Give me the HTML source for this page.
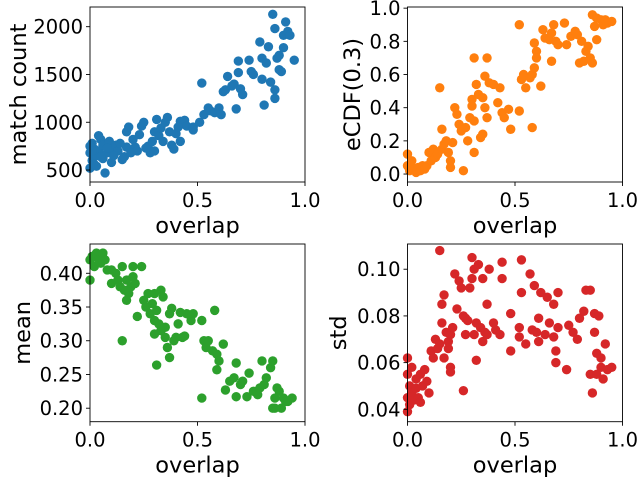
<!DOCTYPE html>
<html><head><meta charset="utf-8"><style>
html,body{margin:0;padding:0;background:#fff;}
svg{display:block;font-family:"DejaVu Sans","Liberation Sans",sans-serif;}
</style></head><body>
<svg id="fig" width="640" height="479" viewBox="0 0 640 479" xmlns="http://www.w3.org/2000/svg"></svg>
<script>
// ---- data (overlap x, metric y) ----
const countX=[0.0,0.01,0.0,0.02,0.01,0.03,0.04,0.05,0.04,0.06,0.07,0.06,0.08,0.09,0.1,0.1,0.12,0.13,0.15,0.16,0.17,0.17,0.18,0.2,0.21,0.22,0.24,0.25,0.27,0.28,0.3,0.3,0.31,0.32,0.33,0.34,0.35,0.36,0.37,0.38,0.4,0.42,0.42,0.44,0.45,0.48,0.48,0.51,0.52,0.53,0.55,0.56,0.58,0.6,0.61,0.62,0.63,0.64,0.66,0.67,0.68,0.69,0.69,0.7,0.71,0.74,0.75,0.76,0.79,0.8,0.8,0.81,0.82,0.83,0.84,0.85,0.86,0.86,0.86,0.87,0.88,0.88,0.89,0.9,0.9,0.91,0.92,0.93,0.95,0.0,0.02,0.03,0.05,0.01,0.08,0.11,0.14,0.19,0.23,0.26,0.29,0.39,0.41];
const countY=[520,600,680,720,780,650,700,820,860,760,470,620,680,800,720,580,760,700,610,640,740,900,950,820,740,700,960,1000,750,680,700,900,1030,860,940,800,1000,1050,900,760,880,800,1010,1020,960,950,920,1000,1410,1080,1150,1120,1100,1150,1080,1320,1340,1480,1380,1400,1140,1640,1520,1350,1290,1650,1530,1500,1840,1670,1450,1180,1620,1790,1420,2130,1980,1340,1250,1670,1700,1550,1530,1910,1780,2050,1950,1910,1650,750,560,540,640,700,730,650,780,680,870,730,800,720,950];
const cdfX=[0.0,0.0,0.01,0.02,0.03,0.04,0.05,0.06,0.07,0.08,0.09,0.1,0.11,0.12,0.13,0.14,0.15,0.16,0.16,0.17,0.18,0.19,0.2,0.2,0.21,0.22,0.23,0.24,0.25,0.26,0.27,0.28,0.29,0.3,0.3,0.31,0.31,0.31,0.32,0.33,0.34,0.35,0.35,0.36,0.36,0.37,0.37,0.38,0.4,0.42,0.43,0.44,0.45,0.47,0.48,0.52,0.52,0.53,0.54,0.55,0.57,0.58,0.58,0.59,0.59,0.6,0.6,0.62,0.63,0.64,0.66,0.67,0.67,0.68,0.69,0.7,0.73,0.74,0.76,0.78,0.79,0.8,0.81,0.82,0.83,0.84,0.85,0.86,0.86,0.87,0.88,0.88,0.9,0.91,0.92,0.93,0.95];
const cdfY=[0.12,0.05,0.02,0.08,0.03,0.01,0.04,0.02,0.05,0.03,0.05,0.13,0.08,0.15,0.1,0.12,0.52,0.27,0.15,0.18,0.2,0.13,0.08,0.04,0.19,0.4,0.36,0.3,0.26,0.02,0.28,0.2,0.34,0.45,0.41,0.7,0.32,0.13,0.54,0.48,0.22,0.46,0.24,0.4,0.59,0.7,0.34,0.55,0.54,0.43,0.52,0.37,0.34,0.39,0.27,0.9,0.38,0.57,0.6,0.52,0.58,0.6,0.28,0.64,0.79,0.74,0.7,0.53,0.87,0.82,0.81,0.85,0.68,0.9,0.8,0.78,0.91,0.78,0.83,0.86,0.84,0.67,0.8,0.68,0.74,0.77,0.7,0.96,0.67,0.89,0.94,0.81,0.93,0.9,0.93,0.91,0.92];
const meanX=[0.0,0.0,0.01,0.02,0.03,0.04,0.05,0.06,0.07,0.08,0.1,0.1,0.12,0.13,0.14,0.15,0.15,0.16,0.17,0.17,0.18,0.19,0.2,0.2,0.21,0.22,0.24,0.25,0.26,0.27,0.28,0.29,0.3,0.3,0.31,0.3,0.31,0.32,0.33,0.33,0.34,0.35,0.35,0.36,0.37,0.37,0.38,0.39,0.4,0.41,0.42,0.43,0.44,0.45,0.47,0.48,0.52,0.52,0.53,0.54,0.55,0.57,0.58,0.59,0.59,0.6,0.62,0.63,0.65,0.67,0.68,0.68,0.7,0.71,0.73,0.74,0.76,0.78,0.79,0.8,0.81,0.82,0.84,0.85,0.85,0.86,0.86,0.87,0.88,0.89,0.9,0.91,0.92,0.94];
const meanY=[0.39,0.42,0.425,0.41,0.43,0.42,0.415,0.43,0.42,0.405,0.405,0.385,0.4,0.39,0.38,0.41,0.3,0.375,0.39,0.36,0.37,0.38,0.41,0.395,0.385,0.336,0.41,0.36,0.35,0.37,0.34,0.355,0.37,0.33,0.345,0.31,0.264,0.325,0.315,0.375,0.365,0.305,0.32,0.29,0.275,0.34,0.348,0.3,0.305,0.325,0.342,0.305,0.307,0.34,0.33,0.34,0.215,0.33,0.3,0.29,0.3,0.285,0.345,0.28,0.257,0.27,0.295,0.227,0.24,0.245,0.267,0.217,0.235,0.24,0.217,0.252,0.225,0.22,0.23,0.27,0.235,0.245,0.26,0.27,0.2,0.2,0.215,0.23,0.225,0.2,0.215,0.21,0.21,0.215];
const stdX=[0.0,0.0,0.0,0.0,0.01,0.01,0.02,0.02,0.03,0.04,0.04,0.05,0.06,0.06,0.07,0.08,0.09,0.1,0.11,0.12,0.13,0.14,0.15,0.15,0.16,0.16,0.17,0.17,0.18,0.19,0.19,0.2,0.2,0.2,0.21,0.22,0.23,0.24,0.25,0.26,0.26,0.27,0.27,0.28,0.29,0.3,0.3,0.31,0.31,0.32,0.32,0.33,0.34,0.35,0.35,0.36,0.37,0.37,0.38,0.4,0.41,0.43,0.44,0.44,0.48,0.48,0.52,0.52,0.53,0.53,0.55,0.57,0.58,0.59,0.6,0.61,0.61,0.62,0.64,0.65,0.66,0.68,0.68,0.69,0.69,0.7,0.7,0.74,0.75,0.77,0.79,0.8,0.82,0.83,0.85,0.85,0.86,0.87,0.87,0.88,0.88,0.89,0.9,0.9,0.91,0.92,0.93,0.95];
const stdY=[0.062,0.055,0.045,0.039,0.05,0.042,0.058,0.047,0.044,0.053,0.049,0.045,0.055,0.043,0.05,0.057,0.052,0.047,0.065,0.062,0.07,0.066,0.068,0.108,0.085,0.077,0.089,0.062,0.073,0.069,0.066,0.072,0.058,0.056,0.075,0.098,0.083,0.095,0.092,0.08,0.048,0.079,0.072,0.078,0.092,0.105,0.096,0.1,0.072,0.077,0.061,0.102,0.075,0.096,0.069,0.073,0.085,0.072,0.1,0.077,0.074,0.072,0.103,0.096,0.081,0.065,0.075,0.071,0.09,0.104,0.068,0.098,0.074,0.093,0.073,0.079,0.069,0.09,0.072,0.088,0.077,0.085,0.071,0.065,0.06,0.075,0.09,0.057,0.076,0.073,0.07,0.079,0.082,0.091,0.091,0.055,0.047,0.081,0.073,0.064,0.055,0.08,0.062,0.058,0.053,0.068,0.057,0.058];
const xTicks=[0.0,0.5,1.0];
const xTickLabels=["0.0","0.5","1.0"];
const countTicks=[500,1000,1500,2000];
const countTickLabels=["500","1000","1500","2000"];
const cdfTicks=[0.0,0.2,0.4,0.6,0.8,1.0];
const cdfTickLabels=["0.0","0.2","0.4","0.6","0.8","1.0"];
const meanTicks=[0.20,0.25,0.30,0.35,0.40];
const meanTickLabels=["0.20","0.25","0.30","0.35","0.40"];
const stdTicks=[0.04,0.06,0.08,0.10];
const stdTickLabels=["0.04","0.06","0.08","0.10"];

const NS="http://www.w3.org/2000/svg";
const svg=document.getElementById('fig');
function mk(tag,attrs,parent){const e=document.createElementNS(NS,tag);for(const k in attrs)e.setAttribute(k,attrs[k]);(parent||svg).appendChild(e);return e;}

function panel(name,box,ylim,xs,ys,color,yt,ytl,ylabel,ylabelX){
  const g=mk('g',{});
  
  
  const sx=v=>box.x0+(v-0)/(1-0)*(box.x1-box.x0);
  const sy=v=>box.y1-(v-ylim[0])/(ylim[1]-ylim[0])*(box.y1-box.y0);
  const pts=mk('g',{},g);
  
  
  for(let i=0;i<xs.length;i++){
    const c=mk('circle',{cx:sx(xs[i]),cy:sy(ys[i]),r:4.7,fill:color},pts);
    
    
  }
  const fr=mk('rect',{x:box.x0,y:box.y0,width:box.x1-box.x0,height:box.y1-box.y0,fill:'none',stroke:'#000','stroke-width':0.9},g);
  
  
  xTicks.forEach((t,i)=>{
    const x=sx(t);
    mk('line',{x1:x,x2:x,y1:box.y1,y2:box.y1+4,stroke:'#000','stroke-width':0.9},g);
    const tx=mk('text',{x:x,y:box.y1+25,'text-anchor':'middle','font-size':19.5,fill:'#000'},g);
    tx.textContent=xTickLabels[i];
    
    
  });
  yt.forEach((t,i)=>{
    const y=sy(t);
    mk('line',{x1:box.x0-4,x2:box.x0,y1:y,y2:y,stroke:'#000','stroke-width':0.9},g);
    const tx=mk('text',{x:box.x0-7,y:y+7,'text-anchor':'end','font-size':19.5,fill:'#000'},g);
    tx.textContent=ytl[i];
    
    
  });
  const xl=mk('text',{x:(box.x0+box.x1)/2,y:box.y1+51,'text-anchor':'middle','font-size':22.5,fill:'#000'},g);
  xl.textContent='overlap';
  
  
  const cy=(box.y0+box.y1)/2;
  const yl=mk('text',{x:ylabelX,y:cy,'text-anchor':'middle','font-size':22.5,fill:'#000',transform:`rotate(-90 ${ylabelX} ${cy})`},g);
  yl.textContent=ylabel;
  
  
}
panel('match-count',{x0:90,x1:305,y0:7,y1:182},[375,2206],countX,countY,'#1f77b4',countTicks,countTickLabels,'match count',26);
panel('ecdf',{x0:407.5,x1:622.5,y0:7,y1:182},[-0.048,1.007],cdfX,cdfY,'#ff7f0e',cdfTicks,cdfTickLabels,'eCDF(0.3)',360);
panel('mean',{x0:90,x1:305,y0:244,y1:421.7},[0.180,0.4434],meanX,meanY,'#2ca02c',meanTicks,meanTickLabels,'mean',30);
panel('std',{x0:407.5,x1:622.5,y0:244,y1:421.7},[0.0347,0.1108],stdX,stdY,'#d62728',stdTicks,stdTickLabels,'std',346);
</script>
</body></html>
